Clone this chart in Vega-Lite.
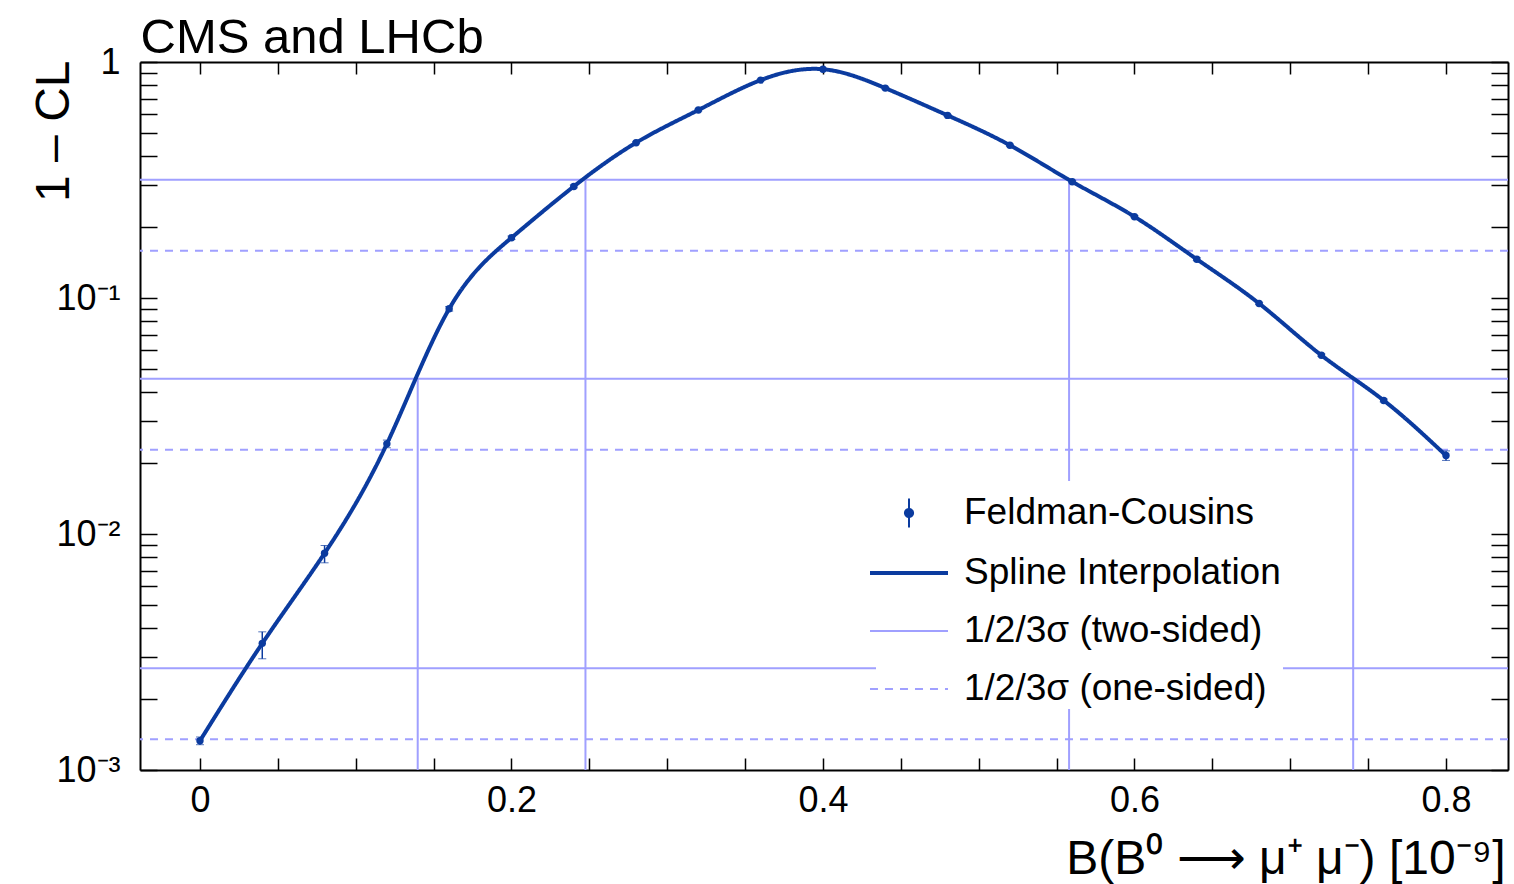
{
  "$schema": "https://vega.github.io/schema/vega-lite/v6.json",
  "width": 1368,
  "height": 708,
  "autosize": "none",
  "padding": {"left": 140, "top": 62, "right": 6, "bottom": 114},
  "background": "white",
  "config": {
    "view": {"stroke": null},
    "axis": {"grid": false},
    "font": "Liberation Sans",
    "legend": {"orient": "none", "legendX": 736, "legendY": 419, "padding": 2, "fillColor": "white", "labelFont": "Liberation Sans", "labelFontSize": 37, "labelColor": "black", "labelLimit": 1000, "labelOffset": 24, "rowPadding": 10, "symbolSize": 3364, "symbolOpacity": 1}
  },
  "datasets": {
    "fc": [
      {"b": 0.00, "cl": 0.00133, "lo": 0.00128, "hi": 0.00138},
      {"b": 0.04, "cl": 0.00344, "lo": 0.00296, "hi": 0.00385},
      {"b": 0.08, "cl": 0.00829, "lo": 0.00755, "hi": 0.00894},
      {"b": 0.12, "cl": 0.0241, "lo": 0.0232, "hi": 0.0250},
      {"b": 0.16, "cl": 0.090, "lo": 0.088, "hi": 0.092},
      {"b": 0.20, "cl": 0.180, "lo": 0.177, "hi": 0.183},
      {"b": 0.24, "cl": 0.297, "lo": 0.293, "hi": 0.301},
      {"b": 0.28, "cl": 0.455, "lo": 0.451, "hi": 0.459},
      {"b": 0.32, "cl": 0.626, "lo": 0.621, "hi": 0.631},
      {"b": 0.36, "cl": 0.838, "lo": 0.832, "hi": 0.844},
      {"b": 0.40, "cl": 0.932, "lo": 0.925, "hi": 0.939},
      {"b": 0.44, "cl": 0.775, "lo": 0.769, "hi": 0.781},
      {"b": 0.48, "cl": 0.594, "lo": 0.589, "hi": 0.599},
      {"b": 0.52, "cl": 0.444, "lo": 0.440, "hi": 0.448},
      {"b": 0.56, "cl": 0.311, "lo": 0.308, "hi": 0.314},
      {"b": 0.60, "cl": 0.221, "lo": 0.219, "hi": 0.223},
      {"b": 0.64, "cl": 0.146, "lo": 0.144, "hi": 0.148},
      {"b": 0.68, "cl": 0.0948, "lo": 0.0938, "hi": 0.0958},
      {"b": 0.72, "cl": 0.0572, "lo": 0.0565, "hi": 0.0579},
      {"b": 0.76, "cl": 0.0368, "lo": 0.0363, "hi": 0.0373},
      {"b": 0.80, "cl": 0.0215, "lo": 0.0205, "hi": 0.0225}
    ],
    "twosided": [{"level": 0.3173}, {"level": 0.0455}, {"level": 0.0027}],
    "onesided": [{"level": 0.1587}, {"level": 0.02275}, {"level": 0.00135}],
    "vlines": [
      {"b": 0.1398, "level": 0.0455},
      {"b": 0.2475, "level": 0.3173},
      {"b": 0.558, "level": 0.3173},
      {"b": 0.7404, "level": 0.0455}
    ],
    "none": []
  },
  "layer": [
    {
      "data": {"name": "twosided"},
      "mark": {"type": "rule"},
      "encoding": {
        "y": {"field": "level", "type": "quantitative", "scale": {"type": "log", "domain": [0.001, 1], "nice": false, "zero": false}, "axis": null},
        "color": {"datum": "1/2/3σ (two-sided)", "type": "nominal", "legend": {"title": null},
          "scale": {"domain": ["Feldman-Cousins", "Spline Interpolation", "1/2/3σ (two-sided)", "1/2/3σ (one-sided)"], "range": ["#0b3b9f", "#0b3b9f", "#a0a0ff", "#a0a0ff"]}},
        "strokeDash": {"datum": "1/2/3σ (two-sided)", "type": "nominal", "legend": {"title": null},
          "scale": {"domain": ["Feldman-Cousins", "Spline Interpolation", "1/2/3σ (two-sided)", "1/2/3σ (one-sided)"], "range": [[1, 0], [1, 0], [1, 0], [8, 7]]}},
        "strokeWidth": {"datum": "1/2/3σ (two-sided)", "type": "nominal", "legend": {"title": null},
          "scale": {"type": "ordinal", "domain": ["Feldman-Cousins", "Spline Interpolation", "1/2/3σ (two-sided)", "1/2/3σ (one-sided)"], "range": [2, 4, 2, 2]}}
      }
    },
    {
      "data": {"name": "onesided"},
      "mark": {"type": "rule"},
      "encoding": {
        "y": {"field": "level", "type": "quantitative", "scale": {"type": "log", "domain": [0.001, 1], "nice": false, "zero": false}, "axis": null},
        "color": {"datum": "1/2/3σ (one-sided)", "type": "nominal", "legend": {"title": null},
          "scale": {"domain": ["Feldman-Cousins", "Spline Interpolation", "1/2/3σ (two-sided)", "1/2/3σ (one-sided)"], "range": ["#0b3b9f", "#0b3b9f", "#a0a0ff", "#a0a0ff"]}},
        "strokeDash": {"datum": "1/2/3σ (one-sided)", "type": "nominal", "legend": {"title": null},
          "scale": {"domain": ["Feldman-Cousins", "Spline Interpolation", "1/2/3σ (two-sided)", "1/2/3σ (one-sided)"], "range": [[1, 0], [1, 0], [1, 0], [8, 7]]}},
        "strokeWidth": {"datum": "1/2/3σ (one-sided)", "type": "nominal", "legend": {"title": null},
          "scale": {"type": "ordinal", "domain": ["Feldman-Cousins", "Spline Interpolation", "1/2/3σ (two-sided)", "1/2/3σ (one-sided)"], "range": [2, 4, 2, 2]}}
      }
    },
    {
      "data": {"name": "vlines"},
      "mark": {"type": "rule", "strokeWidth": 2, "color": "#a0a0ff"},
      "encoding": {
        "x": {"field": "b", "type": "quantitative", "scale": {"domain": [-0.0385, 0.8398], "nice": false, "zero": false},
          "axis": {"orient": "top", "labels": false, "values": [0, 0.05, 0.1, 0.15, 0.2, 0.25, 0.3, 0.35, 0.4, 0.45, 0.5, 0.55, 0.6, 0.65, 0.7, 0.75, 0.8],
            "tickSize": -12, "tickColor": "black", "tickWidth": 1.5, "domainColor": "black", "domainWidth": 2,
            "title": "CMS and LHCb", "titleFont": "Liberation Sans", "titleFontSize": 49, "titleFontWeight": "normal", "titleColor": "black",
            "titleX": 0, "titleY": -10, "titleAlign": "left", "titleBaseline": "alphabetic", "titleAngle": 0,
            "encode": {"ticks": {"update": {"y2": {"signal": "abs(datum.value*5 - round(datum.value*5)) < 1e-6 ? 24 : 12"}}}}}},
        "y": {"field": "level", "type": "quantitative", "scale": {"type": "log", "domain": [0.001, 1], "nice": false, "zero": false},
          "axis": {"orient": "right", "labels": false, "title": null,
            "values": [0.001, 0.002, 0.003, 0.004, 0.005, 0.006, 0.007, 0.008, 0.009, 0.01, 0.02, 0.03, 0.04, 0.05, 0.06, 0.07, 0.08, 0.09, 0.1, 0.2, 0.3, 0.4, 0.5, 0.6, 0.7, 0.8, 0.9, 1],
            "tickSize": -17, "tickColor": "black", "tickWidth": 1.5, "domainColor": "black", "domainWidth": 2,
            "encode": {"ticks": {"update": {"x2": {"signal": "abs(log(datum.value)/LN10 - round(log(datum.value)/LN10)) < 1e-6 ? -34 : -17"}}}}}},
        "y2": {"datum": 0.001}
      }
    },
    {
      "data": {"name": "fc"},
      "mark": {"type": "line", "interpolate": "natural"},
      "encoding": {
        "x": {"field": "b", "type": "quantitative", "scale": {"domain": [-0.0385, 0.8398], "nice": false, "zero": false}, "axis": null},
        "y": {"field": "cl", "type": "quantitative", "scale": {"type": "log", "domain": [0.001, 1], "nice": false, "zero": false}, "axis": null},
        "color": {"datum": "Spline Interpolation", "type": "nominal", "legend": {"title": null},
          "scale": {"domain": ["Feldman-Cousins", "Spline Interpolation", "1/2/3σ (two-sided)", "1/2/3σ (one-sided)"], "range": ["#0b3b9f", "#0b3b9f", "#a0a0ff", "#a0a0ff"]}},
        "strokeDash": {"datum": "Spline Interpolation", "type": "nominal", "legend": {"title": null},
          "scale": {"domain": ["Feldman-Cousins", "Spline Interpolation", "1/2/3σ (two-sided)", "1/2/3σ (one-sided)"], "range": [[1, 0], [1, 0], [1, 0], [8, 7]]}},
        "strokeWidth": {"datum": "Spline Interpolation", "type": "nominal", "legend": {"title": null},
          "scale": {"type": "ordinal", "domain": ["Feldman-Cousins", "Spline Interpolation", "1/2/3σ (two-sided)", "1/2/3σ (one-sided)"], "range": [2, 4, 2, 2]}}
      }
    },
    {
      "data": {"name": "fc"},
      "mark": {"type": "errorbar", "ticks": {"size": 8}, "rule": {"strokeWidth": 1.5}},
      "encoding": {
        "x": {"field": "b", "type": "quantitative", "scale": {"domain": [-0.0385, 0.8398], "nice": false, "zero": false}, "axis": null},
        "y": {"field": "lo", "type": "quantitative", "scale": {"type": "log", "domain": [0.001, 1], "nice": false, "zero": false}, "axis": null},
        "y2": {"field": "hi"},
        "color": {"value": "#0b3b9f"}
      }
    },
    {
      "data": {"name": "none"},
      "mark": {"type": "point"},
      "encoding": {
        "x": {"field": "b", "type": "quantitative", "scale": {"domain": [-0.0385, 0.8398], "nice": false, "zero": false}, "axis": null},
        "y": {"field": "cl", "type": "quantitative", "scale": {"type": "log", "domain": [0.001, 1], "nice": false, "zero": false}, "axis": null},
        "shape": {"datum": "Feldman-Cousins", "type": "nominal", "legend": {"title": null},
          "scale": {"domain": ["Feldman-Cousins", "Spline Interpolation", "1/2/3σ (two-sided)", "1/2/3σ (one-sided)"],
            "range": ["M0,-0.5V0.5M-0.14,0A0.14,0.14,0,1,1,0.14,0A0.14,0.14,0,1,1,-0.14,0Z", "M-1.345,0H1.345", "M-1.345,0H1.345", "M-1.345,0H1.345"]}}
      }
    },
    {
      "data": {"name": "fc"},
      "mark": {"type": "circle", "size": 55, "opacity": 1},
      "encoding": {
        "x": {"field": "b", "type": "quantitative", "scale": {"domain": [-0.0385, 0.8398], "nice": false, "zero": false},
          "axis": {"orient": "bottom", "values": [0, 0.05, 0.1, 0.15, 0.2, 0.25, 0.3, 0.35, 0.4, 0.45, 0.5, 0.55, 0.6, 0.65, 0.7, 0.75, 0.8],
            "tickSize": -12, "tickColor": "black", "tickWidth": 1.5, "domainColor": "black", "domainWidth": 2,
            "labelPadding": 25, "labelFont": "Liberation Sans", "labelFontSize": 36, "labelColor": "black", "labelOverlap": false, "labelFlush": false, "labelBound": false,
            "labelExpr": "abs(datum.value*5 - round(datum.value*5)) < 1e-6 ? format(datum.value, '.1~f') : ''",
            "title": "B(B⁰ ⟶ μ⁺ μ⁻) [10⁻⁹]", "titleFont": "Liberation Sans", "titleFontSize": 48, "titleFontWeight": "normal", "titleColor": "black",
            "titleX": 1365, "titleY": 103, "titleAlign": "right", "titleBaseline": "alphabetic", "titleAngle": 0,
            "encode": {"ticks": {"update": {"y2": {"signal": "abs(datum.value*5 - round(datum.value*5)) < 1e-6 ? -24 : -12"}}}}}},
        "y": {"field": "cl", "type": "quantitative", "scale": {"type": "log", "domain": [0.001, 1], "nice": false, "zero": false},
          "axis": {"orient": "left",
            "values": [0.001, 0.002, 0.003, 0.004, 0.005, 0.006, 0.007, 0.008, 0.009, 0.01, 0.02, 0.03, 0.04, 0.05, 0.06, 0.07, 0.08, 0.09, 0.1, 0.2, 0.3, 0.4, 0.5, 0.6, 0.7, 0.8, 0.9, 1],
            "tickSize": -17, "tickColor": "black", "tickWidth": 1.5, "domainColor": "black", "domainWidth": 2,
            "labelPadding": 37, "labelFont": "Liberation Sans", "labelFontSize": 36, "labelColor": "black", "labelOverlap": false, "labelFlush": false, "labelBound": false,
            "labelExpr": "abs(log(datum.value)/LN10 - round(log(datum.value)/LN10)) > 1e-6 ? '' : datum.value > 0.5 ? '1' : datum.value > 0.05 ? '10⁻¹' : datum.value > 0.005 ? '10⁻²' : '10⁻³'",
            "title": "1 – CL", "titleFont": "Liberation Sans", "titleFontSize": 48, "titleFontWeight": "normal", "titleColor": "black",
            "titleX": -72, "titleY": -2, "titleAngle": 270, "titleAlign": "right", "titleBaseline": "alphabetic",
            "encode": {"ticks": {"update": {"x2": {"signal": "abs(log(datum.value)/LN10 - round(log(datum.value)/LN10)) < 1e-6 ? 34 : 17"}}}}}},
        "color": {"datum": "Feldman-Cousins", "type": "nominal", "legend": {"title": null},
          "scale": {"domain": ["Feldman-Cousins", "Spline Interpolation", "1/2/3σ (two-sided)", "1/2/3σ (one-sided)"], "range": ["#0b3b9f", "#0b3b9f", "#a0a0ff", "#a0a0ff"]}}
      }
    }
  ],
  "resolve": {"axis": {"x": "independent", "y": "independent"}}
}
